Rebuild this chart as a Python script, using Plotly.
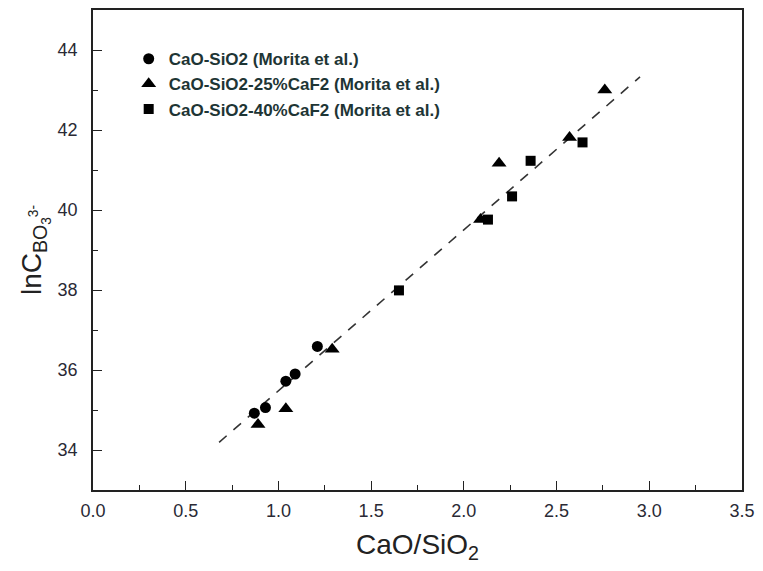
import plotly.graph_objects as go

# Data
cs_x = [0.87, 0.93, 1.04, 1.09, 1.21]
cs_y = [34.92, 35.06, 35.72, 35.90, 36.59]

f25_x = [0.89, 1.04, 1.29, 2.09, 2.19, 2.57, 2.76]
f25_y = [34.64, 35.03, 36.52, 39.76, 41.17, 41.81, 43.00]

f40_x = [1.65, 2.13, 2.26, 2.36, 2.64]
f40_y = [37.99, 39.76, 40.34, 41.23, 41.69]

fit_x = [0.68, 2.95]
fit_slope = 4.025
fit_intercept = 31.455
fit_y = [fit_slope * v + fit_intercept for v in fit_x]

names = ["CaO-SiO2 (Morita et al.)",
         "CaO-SiO2-25%CaF2 (Morita et al.)",
         "CaO-SiO2-40%CaF2 (Morita et al.)"]

fig = go.Figure()
fig.add_trace(go.Scatter(x=fit_x, y=fit_y, mode="lines", showlegend=False,
                         line=dict(color="#333333", width=1.6, dash="10px,9px")))
fig.add_trace(go.Scatter(x=cs_x, y=cs_y, mode="markers", name=names[0],
                         marker=dict(symbol="circle", size=11, color="black")))
fig.add_trace(go.Scatter(x=f25_x, y=f25_y, mode="markers", name=names[1],
                         marker=dict(symbol="triangle-up", size=13, color="black")))
fig.add_trace(go.Scatter(x=f40_x, y=f40_y, mode="markers", name=names[2],
                         marker=dict(symbol="square", size=10, color="black")))

axis_common = dict(showline=True, linecolor="#222222", linewidth=1.5, mirror=True,
                   ticks="inside", ticklen=9, tickwidth=1.3, tickcolor="#222222",
                   showgrid=False, zeroline=False,
                   tickfont=dict(family="Liberation Sans, Arial", size=18, color="#2a2a35"))

fig.update_xaxes(range=[0, 3.5], dtick=0.5, tick0=0, tickformat=".1f",
                 minor=dict(ticks="inside", dtick=0.25, ticklen=5, tickcolor="#222222"),
                 title=dict(text="CaO/SiO<sub>2</sub>", standoff=14,
                            font=dict(family="Liberation Sans, Arial", size=28, color="#222222")),
                 ticklabelstandoff=4,
                 **axis_common)
fig.update_yaxes(range=[33, 45], dtick=2, tick0=34,
                 minor=dict(ticks="inside", dtick=1, ticklen=5, tickcolor="#222222"),
                 title=dict(text="lnC<sub>BO<sub>3</sub><sup>3-</sup></sub>", standoff=8,
                            font=dict(family="Liberation Sans, Arial", size=28, color="#222222")),
                 ticklabelstandoff=10,
                 **axis_common)

fig.update_layout(
    width=763, height=571,
    margin=dict(l=93, r=16, t=8, b=81),
    paper_bgcolor="white", plot_bgcolor="white",
    legend=dict(x=0.055, y=0.935, xanchor="left", yanchor="top",
                bgcolor="rgba(0,0,0,0)",
                font=dict(family="Liberation Sans, Arial", size=17, color="#1e3535", weight="bold")),
)

fig.write_html("out.html")
